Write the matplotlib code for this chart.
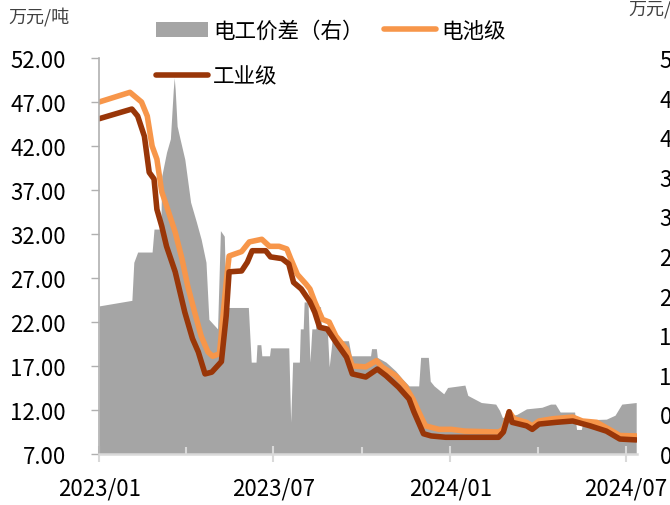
import numpy as np
import pandas as pd
import matplotlib
matplotlib.use("Agg")
import matplotlib.pyplot as plt
import matplotlib.dates as mdates
from matplotlib.patches import Patch
from matplotlib.lines import Line2D

plt.rcParams['font.family'] = ['Noto Sans CJK SC', 'DejaVu Sans']

# 电池级 (万元/吨)
battery_dates = ['2023-01-01', '2023-02-02', '2023-02-14', '2023-02-20', '2023-02-25', '2023-03-02',
                 '2023-03-07', '2023-03-12', '2023-03-21', '2023-03-28', '2023-04-03', '2023-04-10',
                 '2023-04-17', '2023-04-24', '2023-04-29', '2023-05-06', '2023-05-13', '2023-05-16',
                 '2023-05-29', '2023-06-06', '2023-06-19', '2023-06-27', '2023-07-07', '2023-07-15',
                 '2023-07-19', '2023-07-26', '2023-08-04', '2023-08-08', '2023-08-13', '2023-08-21',
                 '2023-08-28', '2023-09-04', '2023-09-15', '2023-09-21', '2023-10-05', '2023-10-16',
                 '2023-10-22', '2023-11-05', '2023-11-15', '2023-11-23', '2023-11-29', '2023-12-06',
                 '2023-12-20', '2024-01-02', '2024-01-16', '2024-02-20', '2024-02-25', '2024-03-02',
                 '2024-03-07', '2024-03-20', '2024-03-26', '2024-04-02', '2024-04-16', '2024-05-07',
                 '2024-05-17', '2024-06-01', '2024-06-14', '2024-06-25', '2024-07-12']
battery = [47.0, 48.1, 47.0, 45.4, 42.0, 40.5,
           36.8, 35.2, 32.2, 29.2, 26.1, 23.2,
           20.4, 18.6, 18.1, 18.4, 26.5, 29.5,
           30.0, 31.1, 31.4, 30.6, 30.6, 30.3,
           29.2, 27.4, 26.3, 25.75, 24.3, 22.3,
           22.0, 20.4, 18.9, 17.0, 16.9, 17.6,
           16.9, 15.9, 14.7, 13.25, 11.8, 10.2,
           9.8, 9.8, 9.6, 9.5, 9.8, 11.8,
           11.0, 10.6, 10.2, 10.75, 11.0, 11.2,
           10.75, 10.6, 9.8, 9.1, 9.05]

# 工业级 (万元/吨)
industrial_dates = ['2023-01-01', '2023-02-04', '2023-02-10', '2023-02-17', '2023-02-22', '2023-02-27',
                    '2023-03-02', '2023-03-07', '2023-03-12', '2023-03-21', '2023-03-26', '2023-03-31',
                    '2023-04-08', '2023-04-14', '2023-04-21', '2023-04-28', '2023-05-03', '2023-05-08',
                    '2023-05-13', '2023-05-16', '2023-05-29', '2023-06-04', '2023-06-09', '2023-06-23',
                    '2023-06-28', '2023-07-10', '2023-07-17', '2023-07-22', '2023-07-30', '2023-08-08',
                    '2023-08-13', '2023-08-18', '2023-08-26', '2023-09-04', '2023-09-15', '2023-09-21',
                    '2023-10-05', '2023-10-17', '2023-10-26', '2023-11-08', '2023-11-19', '2023-11-24',
                    '2023-12-04', '2023-12-12', '2023-12-27', '2024-01-16', '2024-02-20', '2024-02-25',
                    '2024-03-02', '2024-03-05', '2024-03-20', '2024-03-26', '2024-04-02', '2024-04-20',
                    '2024-05-07', '2024-05-25', '2024-06-11', '2024-06-25', '2024-07-12']
industrial = [45.1, 46.2, 45.4, 43.1, 39.0, 38.25,
              34.8, 32.9, 30.6, 27.7, 25.4, 23.1,
              20.1, 18.6, 16.1, 16.3, 16.9, 17.5,
              22.7, 27.7, 27.8, 28.8, 30.1, 30.1,
              29.4, 29.2, 28.6, 26.5, 25.75, 24.3,
              23.1, 21.4, 21.2, 19.7, 18.0, 16.1,
              15.75, 16.65, 15.9, 14.6, 13.25, 11.8,
              9.3, 9.05, 8.9, 8.9, 8.9, 9.5,
              11.8, 10.6, 10.2, 9.8, 10.4, 10.6,
              10.75, 10.2, 9.6, 8.7, 8.6]

# 电工价差 (右轴, 万元/吨)
spread_dates = ['2023-01-01', '2023-02-04', '2023-02-06', '2023-02-10', '2023-02-25', '2023-02-27',
                '2023-03-06', '2023-03-07', '2023-03-12', '2023-03-16', '2023-03-19', '2023-03-20',
                '2023-03-21', '2023-03-23', '2023-03-26', '2023-03-31', '2023-04-06', '2023-04-12',
                '2023-04-17', '2023-04-22', '2023-04-25', '2023-05-01', '2023-05-04', '2023-05-07',
                '2023-05-11', '2023-05-13', '2023-06-05', '2023-06-08', '2023-06-13', '2023-06-14',
                '2023-06-18', '2023-06-19', '2023-06-27', '2023-06-28', '2023-07-17', '2023-07-19',
                '2023-07-21', '2023-07-28', '2023-07-29', '2023-08-01', '2023-08-02', '2023-08-06',
                '2023-08-08', '2023-08-10', '2023-08-14', '2023-08-15', '2023-08-19', '2023-08-20',
                '2023-08-26', '2023-08-28', '2023-08-31', '2023-09-17', '2023-09-20', '2023-10-10',
                '2023-10-11', '2023-10-16', '2023-10-17', '2023-10-26', '2023-11-05', '2023-11-12',
                '2023-11-19', '2023-11-29', '2023-12-01', '2023-12-09', '2023-12-11', '2023-12-15',
                '2023-12-25', '2023-12-29', '2024-01-16', '2024-01-19', '2024-02-02', '2024-02-17',
                '2024-02-21', '2024-02-24', '2024-03-10', '2024-03-20', '2024-04-05', '2024-04-14',
                '2024-04-19', '2024-04-24', '2024-05-09', '2024-05-11', '2024-05-16', '2024-05-18',
                '2024-06-11', '2024-06-20', '2024-06-27', '2024-07-12']
spread = [1.87, 1.94, 2.42, 2.55, 2.55, 2.84,
          2.84, 3.51, 3.81, 3.98, 4.6, 4.75,
          4.6, 4.14, 3.98, 3.72, 3.18, 2.93,
          2.71, 2.42, 1.70, 1.62, 1.58, 2.82,
          2.75, 1.85, 1.85, 1.16, 1.16, 1.38,
          1.38, 1.24, 1.24, 1.34, 1.34, 0.40,
          1.16, 1.16, 1.58, 1.58, 1.92, 1.92,
          1.16, 1.58, 1.58, 1.86, 1.86, 1.58,
          1.58, 1.10, 1.43, 1.43, 1.24, 1.24,
          1.33, 1.33, 1.22, 1.16, 1.05, 0.95,
          0.86, 0.86, 1.22, 1.22, 0.92, 0.86,
          0.76, 0.84, 0.87, 0.74, 0.65, 0.63,
          0.55, 0.46, 0.50, 0.57, 0.59, 0.63,
          0.63, 0.53, 0.53, 0.31, 0.31, 0.43,
          0.44, 0.49, 0.63, 0.65]

battery_dates = pd.to_datetime(battery_dates)
industrial_dates = pd.to_datetime(industrial_dates)
spread_dates = pd.to_datetime(spread_dates)

c_gray = '#A5A5A5'
c_orange = '#F7964A'
c_dark = '#993608'
c_axis = '#D9D9D9'

fig = plt.figure(figsize=(6.7, 5.06), dpi=100)
ax = fig.add_axes([0.148, 0.1008, 0.803, 0.7826])
ax2 = ax.twinx()
ax.set_zorder(ax2.get_zorder() + 1)
ax.patch.set_visible(False)

ax2.fill_between(spread_dates, spread, 0, color=c_gray, lw=0)
ax.plot(battery_dates, battery, color=c_orange, lw=4, solid_capstyle='round', solid_joinstyle='round')
ax.plot(industrial_dates, industrial, color=c_dark, lw=4, solid_capstyle='round', solid_joinstyle='round')

ax.set_xlim(pd.Timestamp('2023-01-01'), pd.Timestamp('2024-07-13'))
ax.set_ylim(7, 52)
ax2.set_ylim(0, 5)

ax.set_yticks(np.arange(7, 53, 5))
ax.yaxis.set_major_formatter(matplotlib.ticker.FormatStrFormatter('%.2f'))
ax2.set_yticks(np.arange(0, 5.01, 0.5))
ax2.yaxis.set_major_formatter(matplotlib.ticker.FormatStrFormatter('%.2f'))

ax.xaxis.set_major_locator(mdates.MonthLocator(bymonth=[1, 7]))
ax.xaxis.set_minor_locator(mdates.MonthLocator(bymonth=[4, 10]))
ax.xaxis.set_major_formatter(mdates.DateFormatter('%Y/%m'))

for a in (ax, ax2):
    for s in ('top', 'right'):
        a.spines[s].set_visible(False)
ax2.spines['left'].set_visible(False)
ax2.spines['bottom'].set_visible(False)
ax.spines['left'].set_color('#B0B0B0')
ax.spines['left'].set_linewidth(1.2)
ax.spines['bottom'].set_color(c_axis)
ax.spines['bottom'].set_linewidth(1.8)

ax.tick_params(axis='y', direction='out', length=5.8, width=1, color='#B0B0B0',
               labelsize=16, pad=18, labelcolor='black')
ax.tick_params(axis='x', which='major', direction='inout', length=11, width=1.5, color=c_axis,
               labelsize=16, pad=11, labelcolor='black')
ax.tick_params(axis='x', which='minor', direction='in', length=5, width=1.5, color=c_axis)
ax2.tick_params(axis='y', length=0, labelsize=16, pad=16, labelcolor='black')

fig.text(8 / 670, 1 - 17 / 506, '万元/吨', fontsize=13, color='#404040', va='center', ha='left')
fig.text(628 / 670, 1 - 9 / 506, '万元/吨', fontsize=13, color='#404040', va='center', ha='left')

handles = [Patch(facecolor=c_gray, edgecolor='none'),
           Line2D([], [], color=c_dark, lw=4, solid_capstyle='round'),
           Line2D([], [], color=c_orange, lw=4, solid_capstyle='round')]
labels = ['电工价差（右）', '工业级', '电池级']
fig.legend(handles, labels, loc='upper left', bbox_to_anchor=(156 / 670, 1 - 21 / 506), ncol=2,
           frameon=False, fontsize=15.5, handlelength=2.4, handletextpad=0.25,
           columnspacing=0.95, labelspacing=1.1, borderpad=0, borderaxespad=0)

fig.savefig('out.png', dpi=100)
